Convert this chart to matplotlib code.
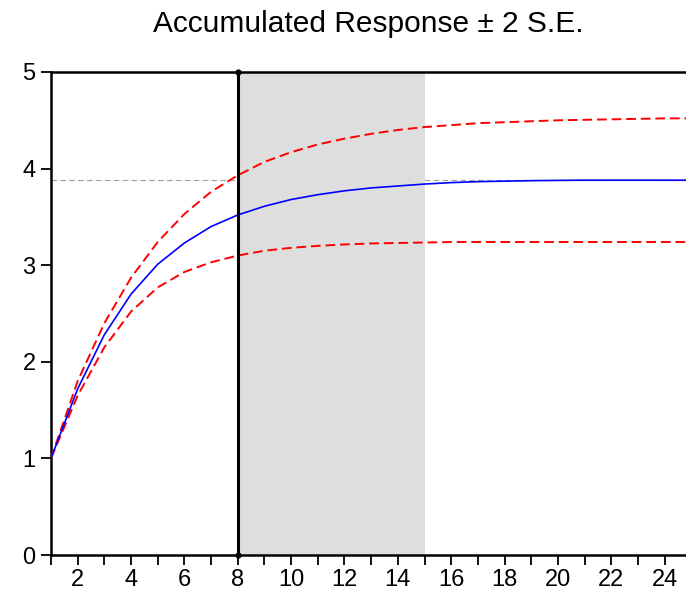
import matplotlib.pyplot as plt
from matplotlib.ticker import FixedLocator

plt.rcParams['font.family'] = ['Liberation Sans', 'DejaVu Sans']

# periods and accumulated response with +/- 2 S.E. bands
# (the plot runs a bit past period 24, so a 25th point keeps the lines to the edge)
periods = list(range(1, 26))
response = [1.00, 1.72, 2.28, 2.70, 3.01, 3.23, 3.40, 3.52, 3.61, 3.68, 3.73, 3.77,
            3.80, 3.82, 3.84, 3.855, 3.865, 3.87, 3.875, 3.878, 3.88, 3.88, 3.88, 3.88, 3.88]
upper = [1.00, 1.80, 2.40, 2.87, 3.24, 3.53, 3.76, 3.93, 4.07, 4.17, 4.25, 4.31,
         4.36, 4.40, 4.43, 4.45, 4.47, 4.48, 4.49, 4.50, 4.505, 4.51, 4.515, 4.52, 4.52]
lower = [1.00, 1.65, 2.15, 2.52, 2.77, 2.93, 3.03, 3.10, 3.15, 3.18, 3.20, 3.215,
         3.225, 3.23, 3.235, 3.24, 3.24, 3.24, 3.24, 3.24, 3.24, 3.24, 3.24, 3.24, 3.24]
long_run = 3.88
shade_start, shade_end = 8, 15
tick_periods = list(range(1, 25))
x_labels = [str(p) if p % 2 == 0 else '' for p in tick_periods]
y_ticks = [0, 1, 2, 3, 4, 5]

fig = plt.figure(figsize=(6.86, 5.98), dpi=100)
ax = fig.add_axes([0.0743, 0.0719, 0.9257, 0.8077])

ax.axhline(long_run, color='#a0a0a0', lw=0.8, ls=(0, (5, 3)), zorder=1)
ax.axvspan(shade_start, shade_end, color='#dedede', lw=0, zorder=2)
ax.plot(periods, upper, color='red', lw=1.4, ls=(0, (5, 2.5)), zorder=3)
ax.plot(periods, lower, color='red', lw=1.4, ls=(0, (5, 2.5)), zorder=3)
ax.plot(periods, response, color='blue', lw=1.2, zorder=4)
ax.plot([shade_start, shade_start], [0, 5], color='black', lw=2.2, marker='o',
        markersize=3.5, zorder=5, clip_on=False)

ax.set_xlim(1, 24.8)
ax.set_ylim(0, 5)
ax.xaxis.set_major_locator(FixedLocator(tick_periods))
ax.set_xticklabels(x_labels)
ax.set_yticks(y_ticks)
ax.tick_params(axis='both', direction='out', length=7, width=1.3,
               labelsize=17, color='black')
ax.tick_params(axis='x', pad=3)
ax.tick_params(axis='y', pad=4)

for side in ['left', 'bottom', 'top']:
    ax.spines[side].set_linewidth(1.8)
ax.spines['right'].set_visible(False)

ax.set_title('Accumulated Response \u00b1 2 S.E.', fontsize=21.5, pad=29)

fig.savefig('out.png', dpi=100)
